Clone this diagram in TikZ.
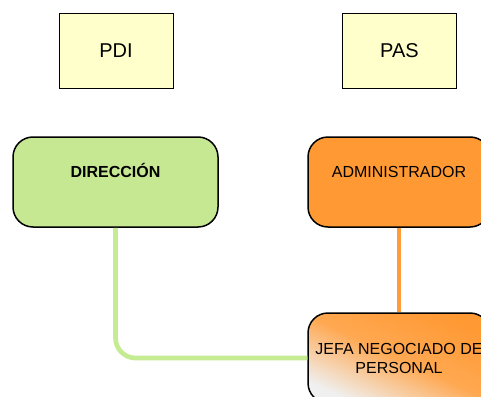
\documentclass[tikz,border=0pt]{standalone}
\usepackage{fontspec}
\setmainfont{Liberation Sans}
\definecolor{paleyellow}{HTML}{FFFFCC}
\definecolor{leafgreen}{HTML}{C6E893}
\definecolor{deeporange}{HTML}{FF9933}
\definecolor{greenwire}{HTML}{C6EC93}
\definecolor{orangewire}{HTML}{FF9D3A}

\tikzset{
  every picture/.append style={x=1pt, y=-1pt},
  groupbox/.style={draw=black, line width=0.8pt, fill=paleyellow, inner sep=0pt,
    minimum width=114pt, minimum height=75pt, font=\fontsize{20}{24}\selectfont},
  unitbox/.style={draw=black, line width=1.5pt, rounded corners=20pt, inner sep=0pt,
    minimum height=90pt, text height=40.7pt, text depth=49.3pt,
    font=\fontsize{16}{19}\selectfont},
  wire/.style={line width=4.7pt}
}

\begin{document}
\begin{tikzpicture}
  \useasboundingbox (0,0) rectangle (481,396);
  \clip (0,0) rectangle (481,396);
  % upper row
  \node[groupbox] (pdi) at(116,50.5){PDI};
  \node[groupbox] (pas) at(399.5,50.5){PAS};
  % middle row
  \node[unitbox, fill=leafgreen, minimum width=205pt] (dir) at(115.5,182){\textbf{DIRECCIÓN}};
  \node[unitbox, fill=deeporange, minimum width=182pt] (admin) at(399,182){ADMINISTRADOR};
  % lower box
  \node[draw=black, line width=1.5pt, rounded corners=20pt, inner sep=0pt,
    minimum width=182pt, minimum height=90pt, align=center,
    font=\fontsize{16}{19}\selectfont,
    bottom color=gray!12, top color=deeporange, middle color=deeporange!85!white,
    shading angle=-25] (jefa) at(399,358){JEFA NEGOCIADO DE\\PERSONAL};
  % links
  \draw[wire, greenwire, rounded corners=20pt] (dir.south) |- (jefa.west);
  \draw[wire, orangewire] (admin.south) -- (jefa.north);
\end{tikzpicture}
\end{document}
